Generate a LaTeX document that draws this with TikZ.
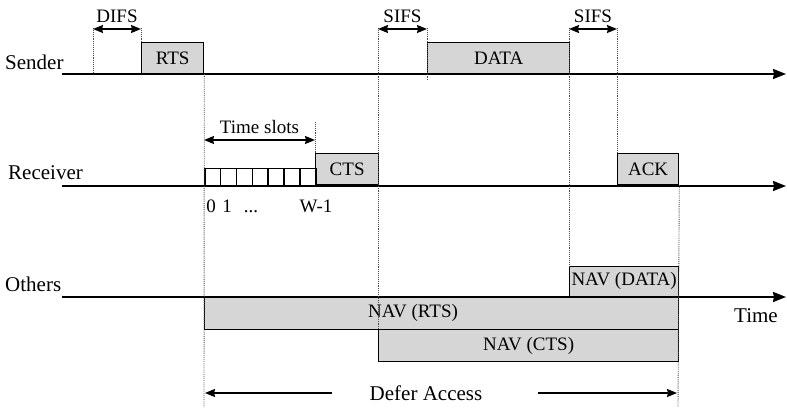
\documentclass[tikz,border=0pt]{standalone}
\usepackage{fontspec}
\setmainfont{Liberation Serif}
\usetikzlibrary{arrows, arrows.meta, positioning}

\begin{document}
\begin{tikzpicture}[x=1pt, y=-1pt, >={Stealth[length=10pt, width=8pt, inset=1pt]},
    axis/.style={line width=2pt, ->, >={Stealth[length=13pt, width=10pt, inset=1pt]}},
    frame/.style={draw, line width=1.3pt, fill=black!16, inner sep=0pt, font=\fontsize{19}{22}\selectfont},
    cell/.style={draw, line width=1.5pt, inner sep=0pt, minimum width=15.857pt, minimum height=17pt, anchor=south west},
    guide/.style={densely dotted, line width=0.9pt, black!70},
    span/.style={<->, line width=1.6pt},
    tag/.style={font=\fontsize{19}{22}\selectfont, inner sep=0pt},
    lane/.style={font=\fontsize{21}{24}\selectfont, inner sep=0pt}]
    \useasboundingbox (0,0) rectangle (787,407);

    % stations and time axes
    \node[lane, anchor=west] (snd) at (5,62) {Sender};
    \node[lane, anchor=west] (rcv) at (8,173) {Receiver};
    \node[lane, anchor=west] (oth) at (5,284) {Others};
    \node[lane] (time) at (756,316) {Time};
    \coordinate (snd0) at (62,74);  \coordinate (snd1) at (786,74);
    \coordinate (rcv0) at (62,186); \coordinate (rcv1) at (786,186);
    \coordinate (oth0) at (62,297); \coordinate (oth1) at (786,297);
    \draw[axis] (snd0) -- (snd1);
    \draw[axis] (rcv0) -- (rcv1);
    \draw[axis] (oth0) -- (oth1);

    % frames
    \node[frame, anchor=south west, minimum width=62pt, minimum height=31pt] (rts) at (141,74) {RTS};
    \node[frame, anchor=south west, minimum width=142pt, minimum height=31pt] (data) at (427,74) {DATA};
    \node[frame, anchor=south west, minimum width=63pt, minimum height=31pt] (cts) at (315,185) {CTS};
    \node[frame, anchor=south west, minimum width=61pt, minimum height=31pt] (ack) at (617,185) {ACK};
    \node[frame, anchor=south west, minimum width=109pt, minimum height=30pt] (navdata) at (569,297) {NAV (DATA)};
    \node[frame, anchor=north west, minimum width=474pt, minimum height=32pt] (navrts) at (204,297) {};
    \node[tag] at (413,313) {NAV (RTS)};
    \node[frame, anchor=north west, minimum width=300pt, minimum height=32pt] (navcts) at (378,329) {NAV (CTS)};

    % contention slots
    \foreach \i in {0,...,6}
        \node[cell] (slot\i) at ({204+\i*15.857},186) {};
    \node[tag, anchor=base] (n0) at (211,212) {0};
    \node[tag, anchor=base] (n1) at (227,212) {1};
    \node[tag, anchor=base] (ndots) at (251,212) {...};
    \node[tag, anchor=base] (nw) at (316,212) {W-1};

    % guide lines
    \coordinate (g1) at (93,28);  \coordinate (g1b) at (93,72);
    \coordinate (g2) at (141,28);
    \coordinate (g3) at (378,28);
    \coordinate (g4) at (427,28); \coordinate (g4b) at (427,80);
    \coordinate (g5) at (569,28);
    \coordinate (g6) at (617,28);
    \coordinate (g7) at (315,122);
    \coordinate (b1) at (204,407); \coordinate (b2) at (678,407);
    \draw[guide] (g1) -- (g1b);
    \draw[guide] (g2) -- (rts.north west);
    \draw[guide] (rts.south east) -- (b1);
    \draw[guide] (g3) -- (navcts.north west);
    \draw[guide] (g4) -- (g4b);
    \draw[guide] (g5) -- (navdata.north west);
    \draw[guide] (g6) -- (ack.north west);
    \draw[guide] (g7) -- (cts.north west);
    \draw[guide] (ack.south east) -- (b2);

    % intervals
    \draw[span] (93,29) -- node[tag, above=6pt] (difs) {DIFS} (141,29);
    \draw[span] (378,29) -- node[tag, above=6pt] (sifs1) {SIFS} (427,29);
    \draw[span] (569,29) -- node[tag, above=6pt] (sifs2) {SIFS} (617,29);
    \draw[span] (204,140) -- node[tag, above=6pt] (slots) {Time slots} (315,140);

    % defer
    \node[lane] (defer) at (426,393) {Defer Access};
    \coordinate (d0) at (205,393); \coordinate (d1) at (677,393);
    \draw[->, line width=1.6pt] (332,393) -- (d0);
    \draw[->, line width=1.6pt] (538,393) -- (d1);
\end{tikzpicture}
\end{document}
